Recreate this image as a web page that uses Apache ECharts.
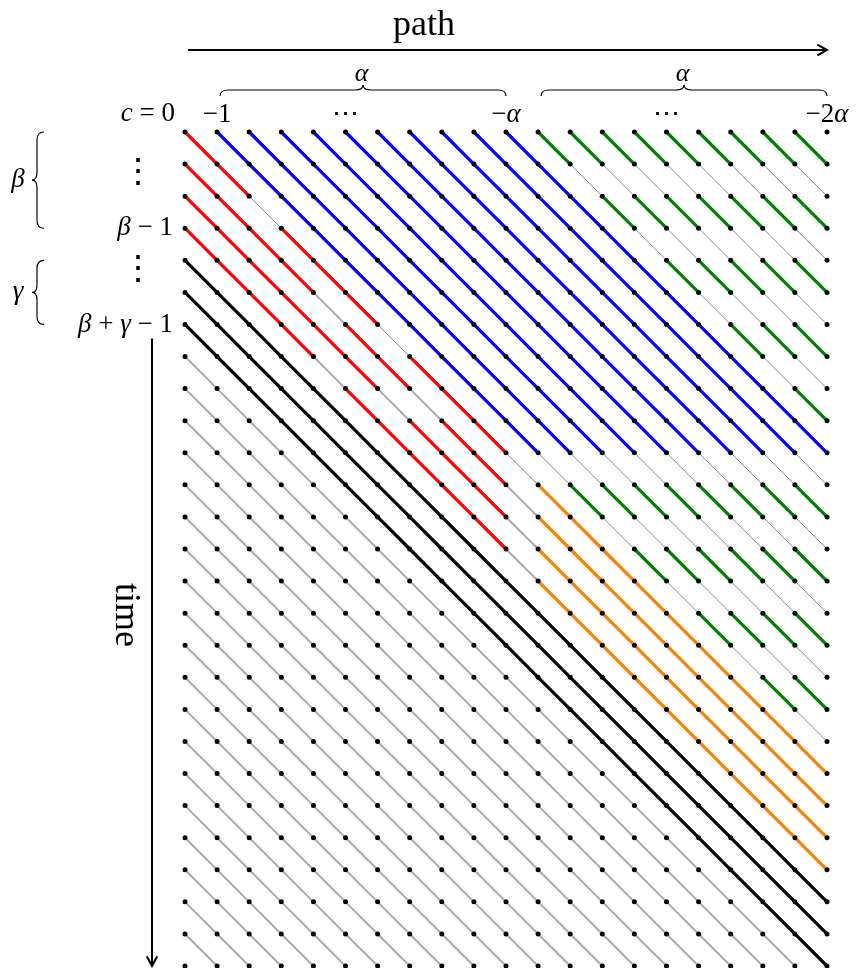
<!DOCTYPE html>
<html>
<head>
<meta charset="utf-8">
<script src="https://cdn.jsdelivr.net/npm/echarts@6/dist/echarts.min.js"></script>
<style>
  html, body { margin: 0; padding: 0; background: #fff; }
  #chart { width: 856px; height: 968px; }
</style>
</head>
<body>
<div id="chart"></div>
<script>
// grid of positions (columns) against time steps (rows)
const colCount = 21;
const rowCount = 27;

const colTickValues = [1, 5, 10, 15, 20];
const colTickLabels = ['−1', '⋯', '−{i|α}', '⋯', '−2{i|α}'];
const rowTickValues = [3, 6];
const rowTickLabels = ['{i|β} − 1', '{i|β} + {i|γ} − 1'];
const rowDotsAt = [1.27, 4.3];

// diagonals are indexed by d = row - col
const redDiagonals = [0, 1, 2, 3];
const redGapCols = [[2, 6], [4, 7], [6], [4]];
const blackDiagonals = [4, 5, 6];
const blueDiagonals = [-1, -2, -3, -4, -5, -6, -7, -8, -9, -10];
const greenRowsTop = [0, 2, 4, 6, 8];
const greenRowsBottom = [11, 13, 15, 17];
const blueLastRow = 9;
const alphaCol = 10;

const FONT = '"Liberation Serif", "DejaVu Serif", serif';

const kinds = {
    light: {color: '#ababab', width: 2, z: 1},
    thin: {color: '#888888', width: 1, z: 1},
    red: {color: '#ff0000', width: 3.2, z: 2},
    blue: {color: '#0000ff', width: 3.2, z: 2},
    green: {color: '#008000', width: 3.2, z: 2},
    orange: {color: '#ff8000', width: 3.2, z: 2},
    black: {color: '#000000', width: 3.2, z: 2}
};

function segmentKind(i, j) {
    const d = j - i;
    if (d > blackDiagonals[blackDiagonals.length - 1]) return 'light';
    if (blackDiagonals.includes(d)) return 'black';
    const r = redDiagonals.indexOf(d);
    if (r >= 0) {
        if (i > alphaCol) return 'orange';
        if (i === alphaCol || redGapCols[r].includes(i)) return d === 0 ? 'thin' : 'light';
        return 'red';
    }
    if (blueDiagonals.includes(d)) {
        if (j <= blueLastRow) return 'blue';
        return greenRowsBottom.includes(j) ? 'green' : 'thin';
    }
    return greenRowsTop.includes(j) ? 'green' : 'thin';
}

// join consecutive segments of the same kind into polylines
const runs = {};
Object.keys(kinds).forEach(k => runs[k] = []);
for (let d = -(colCount - 2); d <= rowCount - 2; d++) {
    let cur = null, kind = null;
    for (let i = Math.max(0, -d); i < colCount - 1 && i + d < rowCount - 1; i++) {
        const j = i + d;
        const k = segmentKind(i, j);
        if (k !== kind) {
            cur = [[i, j]];
            runs[k].push(cur);
            kind = k;
        }
        cur.push([i + 1, j + 1]);
    }
}

const dots = [];
for (let j = 0; j < rowCount; j++) {
    for (let i = 0; i < colCount; i++) dots.push([i, j]);
}

const rich = {
    i: {fontStyle: 'italic', fontFamily: FONT, fontSize: 27, color: '#000'}
};

const chart = echarts.init(document.getElementById('chart'));

const series = Object.keys(kinds).map(k => ({
    type: 'lines',
    coordinateSystem: 'cartesian2d',
    polyline: true,
    silent: true,
    z: kinds[k].z,
    lineStyle: {color: kinds[k].color, width: kinds[k].width, opacity: 1, curveness: 0},
    data: runs[k].map(c => ({coords: c}))
}));
series.push({
    type: 'scatter',
    silent: true,
    clip: false,
    z: 5,
    symbolSize: 5,
    itemStyle: {color: '#000', opacity: 1},
    data: dots
});

chart.setOption({
    animation: false,
    grid: {left: 185, right: 29, top: 132, bottom: 2, outerBoundsMode: 'none'},
    xAxis: {
        type: 'value', position: 'top', min: 0, max: colCount - 1, interval: 1,
        axisLine: {show: false}, axisTick: {show: false}, splitLine: {show: false},
        axisLabel: {
            margin: 4, color: '#000', fontFamily: FONT, fontSize: 27, rich: rich,
            formatter: v => {
                const idx = colTickValues.indexOf(v);
                return idx >= 0 ? colTickLabels[idx] : '';
            }
        }
    },
    yAxis: {
        type: 'value', inverse: true, min: 0, max: rowCount - 1, interval: 1,
        axisLine: {show: false}, axisTick: {show: false}, splitLine: {show: false},
        axisLabel: {
            margin: 12, color: '#000', fontFamily: FONT, fontSize: 27, rich: rich,
            formatter: v => {
                const idx = rowTickValues.indexOf(v);
                return idx >= 0 ? rowTickLabels[idx] : '';
            }
        }
    },
    series: series
});

// annotations: arrows, braces and the free labels
const ink = {stroke: '#000', lineWidth: 2, fill: null};
function arrow(x1, y1, x2, y2) {
    const a = Math.atan2(y2 - y1, x2 - x1), L = 11, W = 0.5;
    return [
        {type: 'line', shape: {x1: x1, y1: y1, x2: x2 - Math.cos(a) * 1.5, y2: y2 - Math.sin(a) * 1.5}, style: ink},
        {type: 'polyline', shape: {points: [
            [x2 - L * Math.cos(a - W), y2 - L * Math.sin(a - W)], [x2, y2],
            [x2 - L * Math.cos(a + W), y2 - L * Math.sin(a + W)]]}, style: ink}
    ];
}
const braceInk = {stroke: '#000', lineWidth: 1.2, fill: null};
function curve(x1, y1, cx, cy, x2, y2) {
    return {type: 'bezierCurve', shape: {x1: x1, y1: y1, cpx1: cx, cpy1: cy, x2: x2, y2: y2}, style: braceInk};
}
function seg(x1, y1, x2, y2) {
    return {type: 'line', shape: {x1: x1, y1: y1, x2: x2, y2: y2}, style: braceInk};
}
function hBrace(x1, x2, y) {
    const m = (x1 + x2) / 2, r = 8;
    return [
        curve(x1, y + 6, x1, y, x1 + r, y), seg(x1 + r, y, m - r, y),
        curve(m - r, y, m, y, m, y - 5), curve(m, y - 5, m, y, m + r, y),
        seg(m + r, y, x2 - r, y), curve(x2 - r, y, x2, y, x2, y + 6)
    ];
}
function vBrace(x, y1, y2) {
    const m = (y1 + y2) / 2, r = 8;
    return [
        curve(x + 7, y1, x, y1, x, y1 + r), seg(x, y1 + r, x, m - r),
        curve(x, m - r, x, m, x - 5, m), curve(x - 5, m, x, m, x, m + r),
        seg(x, m + r, x, y2 - r), curve(x, y2 - r, x, y2, x + 7, y2)
    ];
}
function label(text, x, y, size, align, rotation) {
    return {type: 'text', x: x, y: y, rotation: rotation || 0, style: {
        text: text, fill: '#000', fontFamily: FONT, fontSize: size,
        align: align || 'center', verticalAlign: 'middle',
        rich: {i: {fontStyle: 'italic', fontFamily: FONT, fontSize: size, fill: '#000'}}
    }};
}

const px = (c, r) => chart.convertToPixel({gridIndex: 0}, [c, r]);
const p0 = px(0, 0), p1 = px(1, 0), pA = px(alphaCol, 0), pA1 = px(alphaCol + 1, 0);
const pEnd = px(colCount - 1, rowCount - 1);
const rowY = r => px(0, r)[1];

const elements = [];
elements.push(label('path', 424, 26, 36));
elements.push(...arrow(p0[0] + 3, 50, pEnd[0], 50));
elements.push(...hBrace(p1[0] + 3, pA[0], 90));
elements.push(...hBrace(pA1[0] + 3, pEnd[0], 90));
elements.push(label('{i|α}', (p1[0] + pA[0]) / 2, 74, 26));
elements.push(label('{i|α}', (pA1[0] + pEnd[0]) / 2, 74, 26));
elements.push(label('{i|c} = 0', p0[0] - 10, 114, 27, 'right'));
rowDotsAt.forEach(r => elements.push(label('⋮', 138, rowY(r), 34)));
elements.push(...vBrace(37, rowY(0), rowY(3)));
elements.push(label('{i|β}', 18, (rowY(0) + rowY(3)) / 2, 27));
elements.push(...vBrace(37, rowY(4), rowY(6)));
elements.push(label('{i|γ}', 18, (rowY(4) + rowY(6)) / 2, 27));
elements.push(...arrow(152, rowY(6) + 14, 152, pEnd[1]));
elements.push(label('time', 125, 615, 36, 'center', -Math.PI / 2));

chart.setOption({graphic: {elements: elements}});
</script>
</body>
</html>
